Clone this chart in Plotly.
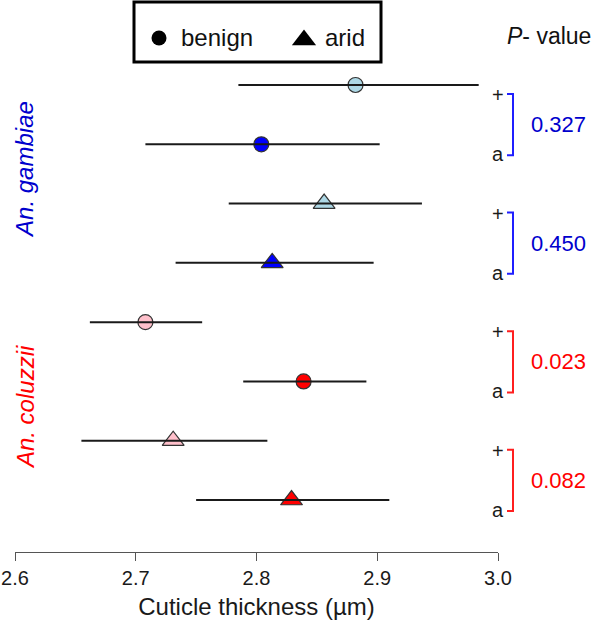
import plotly.graph_objects as go

# ---------------- data ----------------
rows = [1, 2, 3, 4, 5, 6, 7, 8]
species = ["gambiae"] * 4 + ["coluzzii"] * 4
habitat = ["benign", "benign", "arid", "arid", "benign", "benign", "arid", "arid"]
row_labels = ["+", "a", "+", "a", "+", "a", "+", "a"]
means = [2.882, 2.804, 2.856, 2.813, 2.708, 2.839, 2.731, 2.829]
lows = [2.785, 2.708, 2.777, 2.733, 2.662, 2.789, 2.655, 2.750]
highs = [2.984, 2.902, 2.937, 2.897, 2.755, 2.891, 2.809, 2.910]
fills = ["#ADD8E6", "#0000FF", "#ADD8E6", "#0000FF",
         "#FFC0CB", "#FF0000", "#FFC0CB", "#FF0000"]
p_values = ["0.327", "0.450", "0.023", "0.082"]
p_colors = ["#0000CD", "#0000CD", "#FF0000", "#FF0000"]
bracket_colors = ["#1f1fff", "#1f1fff", "#ff1f1f", "#ff1f1f"]
species_names = ["An. gambiae", "An. coluzzii"]
species_colors = ["#0000CD", "#FF0000"]
x_ticks = [2.6, 2.7, 2.8, 2.9, 3.0]
x_tick_text = ["2.6", "2.7", "2.8", "2.9", "3.0"]

# ---------------- layout geometry ----------------
W, H = 600, 635
ML, MR, MT, MB = 15, 102, 0, 83
PW, PH = W - ML - MR, H - MT - MB
XR = [2.6, 3.0]
YTOP, YBOT = -0.4336, 8.877
FONT = "Liberation Sans, Arial, Helvetica, sans-serif"


def px_x(px):
    return (px - ML) / PW


def px_y(py):
    return (MT + PH - py) / PH


def row_py(r):
    return MT + (r - YTOP) / (YBOT - YTOP) * PH


sym = {"benign": "circle", "arid": "triangle-up"}
msize = {"benign": 15, "arid": 19}

fig = go.Figure()

# markers
for r, m, h, f in zip(rows, means, habitat, fills):
    fig.add_trace(go.Scatter(
        x=[m], y=[r], mode="markers",
        marker=dict(symbol=sym[h], size=msize[h], color=f,
                    line=dict(color="#333333", width=1.2)),
        showlegend=False, hoverinfo="skip", cliponaxis=False))

# interval lines (drawn on top of markers)
for r, lo, hi in zip(rows, lows, highs):
    fig.add_trace(go.Scatter(
        x=[lo, hi], y=[r, r], mode="lines",
        line=dict(color="#1a1a1a", width=2),
        showlegend=False, hoverinfo="skip"))

annotations = []
shapes = []

# row labels (+ / a)
for r, lab in zip(rows, row_labels):
    annotations.append(dict(
        x=px_x(498), y=px_y(row_py(r) + 10), xref="paper", yref="paper",
        text=lab, showarrow=False, xanchor="center", yanchor="middle",
        font=dict(family=FONT, size=20, color="#1a1a1a")))

# brackets and p-values
for i, (pv, pc, bc) in enumerate(zip(p_values, p_colors, bracket_colors)):
    r_top, r_bot = rows[2 * i], rows[2 * i + 1]
    y_top = row_py(r_top) + 9
    y_bot = row_py(r_bot) + 11
    xv, xt = 513, 507
    shapes.append(dict(
        type="path", xref="paper", yref="paper",
        path="M %f,%f L %f,%f L %f,%f L %f,%f" % (
            px_x(xt), px_y(y_top), px_x(xv), px_y(y_top),
            px_x(xv), px_y(y_bot), px_x(xt), px_y(y_bot)),
        line=dict(color=bc, width=2)))
    annotations.append(dict(
        x=px_x(529), y=px_y((y_top + y_bot) / 2), xref="paper", yref="paper",
        text=pv, showarrow=False, xanchor="left", yanchor="middle",
        font=dict(family=FONT, size=22, color=pc)))

# P-value header
annotations.append(dict(
    x=px_x(505), y=px_y(36), xref="paper", yref="paper",
    text="<i>P</i>- value", showarrow=False, xanchor="left", yanchor="middle",
    font=dict(family=FONT, size=23, color="#111111")))

# species labels
for k, (nm, col) in enumerate(zip(species_names, species_colors)):
    grp = rows[4 * k:4 * k + 4]
    cy = (row_py(grp[0]) + row_py(grp[-1])) / 2 - 4
    annotations.append(dict(
        x=px_x(25), y=px_y(cy), xref="paper", yref="paper",
        text="<i>%s</i>" % nm, showarrow=False, textangle=-90,
        xanchor="center", yanchor="middle",
        font=dict(family=FONT, size=24, color=col)))

# legend box
shapes.append(dict(type="rect", xref="paper", yref="paper",
                   x0=px_x(134), x1=px_x(381), y0=px_y(2), y1=px_y(62),
                   line=dict(color="black", width=3), fillcolor="white",
                   layer="below"))
legend_items = ["benign", "arid"]
legend_marker_px = [159, 304]
legend_text_px = [179, 323]
for name, mx, tx in zip(legend_items, legend_marker_px, legend_text_px):
    fig.add_trace(go.Scatter(
        x=[mx], y=[38 if name == "benign" else 40], xaxis="x2", yaxis="y2",
        mode="markers",
        marker=dict(symbol=sym[name], size=15 if name == "benign" else 21,
                    color="black"),
        showlegend=False, hoverinfo="skip", cliponaxis=False))
    annotations.append(dict(
        x=px_x(tx), y=px_y(38), xref="paper", yref="paper",
        text=name, showarrow=False, xanchor="left", yanchor="middle",
        font=dict(family=FONT, size=24, color="#111111")))

fig.update_layout(
    width=W, height=H,
    margin=dict(l=ML, r=MR, t=MT, b=MB, pad=0),
    paper_bgcolor="white", plot_bgcolor="white",
    showlegend=False,
    hovermode=False,
    xaxis=dict(range=XR, tickvals=x_ticks, ticktext=x_tick_text,
               showline=True, linecolor="#555555", linewidth=1,
               ticks="outside", ticklen=8, tickcolor="#555555", tickwidth=1,
               showgrid=False, zeroline=False, fixedrange=True,
               tickfont=dict(family=FONT, size=20, color="#1a1a1a"),
               title=dict(text="Cuticle thickness (µm)", standoff=10,
                          font=dict(family=FONT, size=24, color="#1a1a1a"))),
    yaxis=dict(range=[YBOT, YTOP], visible=False, fixedrange=True),
    xaxis2=dict(range=[ML, ML + PW], overlaying="x", visible=False,
                anchor="y2", fixedrange=True),
    yaxis2=dict(range=[MT + PH, MT], overlaying="y", visible=False,
                anchor="x2", fixedrange=True),
    annotations=annotations, shapes=shapes,
)

fig.write_html(
    "out.html",
    config={"displayModeBar": False, "staticPlot": True},
    post_script="document.body.style.margin='0px';"
                "document.body.style.overflow='hidden';",
)
